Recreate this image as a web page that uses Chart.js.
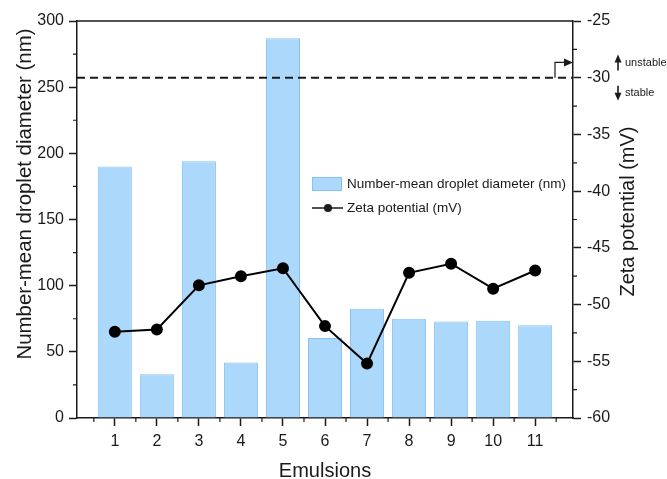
<!DOCTYPE html>
<html>
<head>
<meta charset="utf-8">
<script src="https://cdn.jsdelivr.net/npm/chart.js@4.4.1/dist/chart.umd.min.js"></script>
<style>
    html, body { margin: 0; padding: 0; background: #fff; }
    #wrap { width: 667px; height: 479px; }
</style>
</head>
<body>
<div id="wrap"><canvas id="chart" width="667" height="479"></canvas></div>
<script>
// Data
const emulsions = [1, 2, 3, 4, 5, 6, 7, 8, 9, 10, 11];
const dropletDiameter = [190, 33, 194, 42, 287, 60.5, 82.5, 75, 73, 73.5, 70];
const zetaPotential = [-52.4, -52.2, -48.3, -47.5, -46.8, -51.9, -55.2, -47.2, -46.4, -48.6, -47.0];
const diameterRange = [0, 300];
const zetaRange = [-60, -25];
const stabilityLimit = -30;

const FONT = "'Liberation Sans', Arial, Helvetica, sans-serif";
const INK = '#1a1a1a';
const BAR_FILL = '#acd8fb';
const BAR_EDGE = '#86c3f2';

// Minor ticks, top frame line, stability line, legend and axis titles
const extras = {
    id: 'extras',
    afterDatasetsDraw(chart) {
        const ctx = chart.ctx;
        const area = chart.chartArea;
        const x = chart.scales.x, y = chart.scales.y, y1 = chart.scales.y1;

        ctx.save();
        ctx.strokeStyle = INK;
        ctx.fillStyle = INK;

        // top frame
        ctx.lineWidth = 1.5;
        ctx.beginPath();
        ctx.moveTo(area.left, area.top);
        ctx.lineTo(area.right, area.top);
        ctx.stroke();

        // minor ticks
        ctx.lineWidth = 1.2;
        ctx.beginPath();
        for (let v = 0.5; v < 12; v += 1) {
            const px = x.getPixelForValue(v);
            ctx.moveTo(px, area.bottom);
            ctx.lineTo(px, area.bottom + 4);
        }
        for (let v = 25; v < diameterRange[1]; v += 50) {
            const py = y.getPixelForValue(v);
            ctx.moveTo(area.left - 4, py);
            ctx.lineTo(area.left, py);
        }
        for (let v = zetaRange[0] + 2.5; v < zetaRange[1]; v += 5) {
            const py = y1.getPixelForValue(v);
            ctx.moveTo(area.right, py);
            ctx.lineTo(area.right + 4, py);
        }
        ctx.stroke();

        // stability limit (dashed)
        const ly = y1.getPixelForValue(stabilityLimit);
        ctx.lineWidth = 2;
        ctx.setLineDash([8, 5]);
        ctx.beginPath();
        ctx.moveTo(area.left, ly);
        ctx.lineTo(area.right, ly);
        ctx.stroke();
        ctx.setLineDash([]);

        // small bracket arrow pointing at the axis
        const ay = y1.getPixelForValue(-28.65);
        ctx.lineWidth = 1.2;
        ctx.beginPath();
        ctx.moveTo(area.right - 18, ly);
        ctx.lineTo(area.right - 18, ay);
        ctx.lineTo(area.right - 7, ay);
        ctx.stroke();
        ctx.beginPath();
        ctx.moveTo(area.right, ay);
        ctx.lineTo(area.right - 9, ay - 4);
        ctx.lineTo(area.right - 9, ay + 4);
        ctx.closePath();
        ctx.fill();

        // unstable / stable labels
        const ax = area.right + 45;
        ctx.lineWidth = 1.6;
        ctx.beginPath();
        ctx.moveTo(ax, ay + 8); ctx.lineTo(ax, ay - 2);
        ctx.moveTo(ax, ly + 8); ctx.lineTo(ax, ly + 18);
        ctx.stroke();
        ctx.beginPath();
        ctx.moveTo(ax, ay - 8); ctx.lineTo(ax - 3.5, ay); ctx.lineTo(ax + 3.5, ay);
        ctx.closePath();
        ctx.fill();
        ctx.beginPath();
        ctx.moveTo(ax, ly + 23); ctx.lineTo(ax - 3.5, ly + 15); ctx.lineTo(ax + 3.5, ly + 15);
        ctx.closePath();
        ctx.fill();
        ctx.font = '11px ' + FONT;
        ctx.textAlign = 'left';
        ctx.textBaseline = 'middle';
        ctx.fillText('unstable', ax + 7, ay + 1);
        ctx.fillText('stable', ax + 7, ly + 15);

        // legend
        const lx = area.left + 235, lt = area.top + 156;
        ctx.fillStyle = BAR_FILL;
        ctx.fillRect(lx, lt, 30, 14);
        ctx.strokeStyle = BAR_EDGE;
        ctx.lineWidth = 1;
        ctx.strokeRect(lx + 0.5, lt + 0.5, 29, 13);
        ctx.strokeStyle = INK;
        ctx.fillStyle = INK;
        ctx.lineWidth = 1.5;
        ctx.beginPath();
        ctx.moveTo(lx, lt + 31);
        ctx.lineTo(lx + 31, lt + 31);
        ctx.stroke();
        ctx.beginPath();
        ctx.arc(lx + 16, lt + 31, 4, 0, Math.PI * 2);
        ctx.fill();
        ctx.font = '13.5px ' + FONT;
        ctx.fillText(chart.data.datasets[1].label, lx + 35, lt + 7.5);
        ctx.fillText(chart.data.datasets[0].label, lx + 35, lt + 31);

        // axis titles
        ctx.font = '20px ' + FONT;
        ctx.textAlign = 'center';
        ctx.textBaseline = 'alphabetic';
        ctx.fillText('Emulsions', (area.left + area.right) / 2, 477);

        ctx.save();
        ctx.translate(31, 194);
        ctx.rotate(-Math.PI / 2);
        ctx.font = '20.4px ' + FONT;
        ctx.fillText('Number-mean droplet diameter (nm)', 0, 0);
        ctx.restore();

        ctx.save();
        ctx.translate(634, 211.5);
        ctx.rotate(-Math.PI / 2);
        ctx.fillText('Zeta potential (mV)', 0, 0);
        ctx.restore();

        ctx.restore();
    }
};

const tickFont = { family: FONT, size: 16 };

new Chart(document.getElementById('chart'), {
    type: 'bar',
    data: {
        datasets: [{
            type: 'line',
            label: 'Zeta potential (mV)',
            data: emulsions.map((e, i) => ({ x: e, y: zetaPotential[i] })),
            yAxisID: 'y1',
            borderColor: '#000',
            backgroundColor: '#000',
            borderWidth: 2,
            pointRadius: 5,
            pointBackgroundColor: '#000',
            pointBorderColor: '#000',
            tension: 0,
            order: 0
        }, {
            type: 'bar',
            label: 'Number-mean droplet diameter (nm)',
            data: emulsions.map((e, i) => ({ x: e, y: dropletDiameter[i] })),
            yAxisID: 'y',
            backgroundColor: BAR_FILL,
            borderColor: BAR_EDGE,
            borderWidth: 1,
            barPercentage: 0.81,
            categoryPercentage: 1,
            order: 1
        }]
    },
    options: {
        responsive: false,
        animation: false,
        devicePixelRatio: 1,
        layout: { padding: { top: 21, left: 0, right: 0, bottom: 0 } },
        plugins: {
            legend: { display: false },
            tooltip: { enabled: false }
        },
        scales: {
            x: {
                type: 'linear',
                min: 0.1,
                max: 11.9,
                offset: false,
                afterBuildTicks: s => { s.ticks = emulsions.map(v => ({ value: v })); },
                afterFit: s => { s.height = 61; },
                ticks: { font: tickFont, color: INK, padding: 6, maxRotation: 0, autoSkip: false },
                grid: { drawOnChartArea: false, offset: false, tickLength: 8, tickColor: INK, tickWidth: 1.5 },
                border: { color: INK, width: 1.5 }
            },
            y: {
                position: 'left',
                min: diameterRange[0],
                max: diameterRange[1],
                afterFit: s => { s.width = 77; },
                ticks: { stepSize: 50, font: tickFont, color: INK, padding: 5 },
                grid: { drawOnChartArea: false, tickLength: 8, tickColor: INK, tickWidth: 1.5 },
                border: { color: INK, width: 1.5 }
            },
            y1: {
                position: 'right',
                min: zetaRange[0],
                max: zetaRange[1],
                afterFit: s => { s.width = 94; },
                ticks: { stepSize: 5, font: tickFont, color: INK, padding: 6 },
                grid: { drawOnChartArea: false, tickLength: 8, tickColor: INK, tickWidth: 1.5 },
                border: { color: INK, width: 1.5 }
            }
        }
    },
    plugins: [extras]
});
</script>
</body>
</html>
